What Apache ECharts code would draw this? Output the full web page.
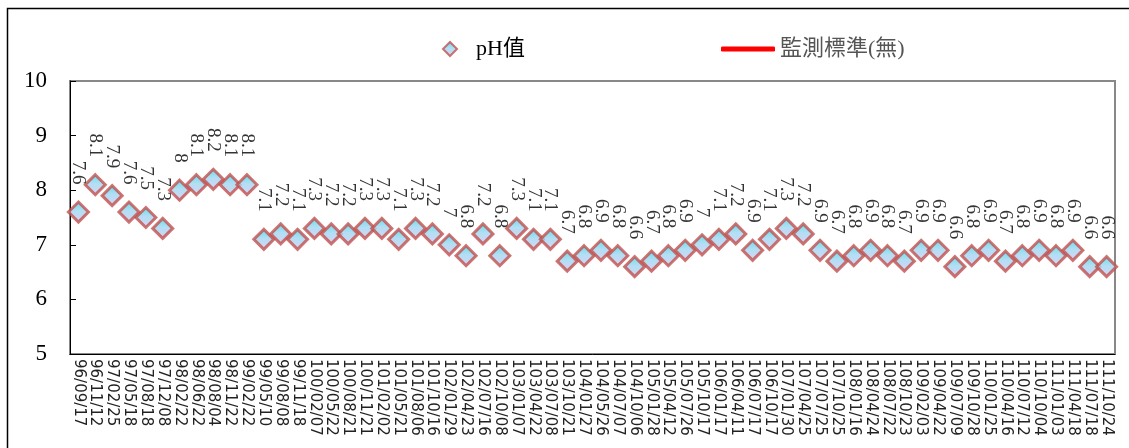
<!DOCTYPE html>
<html>
<head>
<meta charset="utf-8">
<script src="https://cdn.jsdelivr.net/npm/echarts@6/dist/echarts.min.js"></script>
<style>html,body{margin:0;padding:0;background:#fff}#c{width:1129px;height:448px}</style>
</head>
<body>
<div id="c"></div>
<script>
const categories = ['96/09/17','96/11/12','97/02/25','97/05/18','97/08/18','97/12/08','98/02/22','98/06/22','98/08/04','98/11/22','99/02/22','99/05/10','99/08/08','99/11/18','100/02/07','100/05/22','100/08/21','100/11/21','101/02/02','101/05/21','101/08/06','101/10/16','102/01/29','102/04/23','102/07/16','102/10/08','103/01/07','103/04/22','103/07/08','103/10/21','104/01/27','104/05/26','104/07/07','104/10/06','105/01/28','105/04/12','105/07/26','105/10/17','106/01/17','106/04/11','106/07/17','106/10/17','107/01/30','107/04/25','107/07/25','107/10/25','108/01/16','108/04/24','108/07/22','108/10/23','109/02/03','109/04/22','109/07/09','109/10/28','110/01/25','110/04/16','110/07/12','110/10/04','111/01/03','111/04/18','111/07/18','111/10/24'];
const phValues = [7.6,8.1,7.9,7.6,7.5,7.3,8,8.1,8.2,8.1,8.1,7.1,7.2,7.1,7.3,7.2,7.2,7.3,7.3,7.1,7.3,7.2,7,6.8,7.2,6.8,7.3,7.1,7.1,6.7,6.8,6.9,6.8,6.6,6.7,6.8,6.9,7,7.1,7.2,6.9,7.1,7.3,7.2,6.9,6.7,6.8,6.9,6.8,6.7,6.9,6.9,6.6,6.8,6.9,6.7,6.8,6.9,6.8,6.9,6.6,6.6];
const standardValues = [];
const yTicks = {min: 5, max: 10, interval: 1};
const seriesNames = ['pH值', '監測標準(無)'];

const markerFill = new echarts.graphic.LinearGradient(0, 0, 0, 1, [
  {offset: 0, color: '#2fd6ea'}, {offset: 0.45, color: '#9fd6f0'}, {offset: 1, color: '#d0c8f4'}
]);

const chart = echarts.init(document.getElementById('c'));
chart.setOption({
  animation: false,
  backgroundColor: '#fff',
  graphic: [{
    type: 'rect', silent: true, z: 100,
    shape: {x: 7.5, y: 8.5, width: 1200, height: 500},
    style: {fill: 'none', stroke: '#000', lineWidth: 1.5}
  }],
  grid: {left: 70, right: 14, top: 81, bottom: 94, show: true, borderColor: '#888', borderWidth: 2, backgroundColor: 'transparent'},
  legend: [{
    data: [{name: seriesNames[0], icon: 'diamond'}], left: 437, top: 33, itemWidth: 14, itemHeight: 14,
    textStyle: {fontFamily: 'Liberation Serif, "Noto Sans CJK TC"', fontSize: 22, color: '#000', padding: [0, 0, 0, 14]}
  }, {
    data: [{name: seriesNames[1], icon: 'roundRect'}], left: 716, top: 33, itemWidth: 54, itemHeight: 5,
    textStyle: {fontFamily: 'Liberation Serif, "Noto Sans CJK TC"', fontSize: 22, color: '#555'}
  }],
  xAxis: {
    type: 'category', data: categories, boundaryGap: true,
    axisLine: {lineStyle: {color: '#000', width: 1}},
    axisTick: {inside: true, length: 5, lineStyle: {color: '#000'}},
    axisLabel: {interval: 0, rotate: -90, fontFamily: 'DejaVu Sans', fontSize: 15, color: '#222', margin: 5}
  },
  yAxis: {
    type: 'value', min: yTicks.min, max: yTicks.max, interval: yTicks.interval,
    splitLine: {show: false},
    axisLine: {show: true, lineStyle: {color: '#000', width: 1}},
    axisTick: {show: true, inside: true, length: 6, lineStyle: {color: '#000'}},
    axisLabel: {fontFamily: 'Liberation Serif', fontSize: 23, color: '#000', margin: 23}
  },
  series: [{
    name: seriesNames[0], type: 'scatter', data: phValues,
    symbol: 'diamond', symbolSize: [20, 20],
    itemStyle: {color: markerFill, borderColor: '#c0504d', borderWidth: 3},
    label: {
      show: true, position: 'top', distance: 13, rotate: -90, align: 'right', verticalAlign: 'middle',
      fontFamily: 'Liberation Serif', fontSize: 19, color: '#000', offset: [-3, 0],
      formatter: p => String(p.value)
    }
  }, {
    name: seriesNames[1], type: 'line', data: standardValues,
    itemStyle: {color: '#ff0000'}, lineStyle: {color: '#ff0000', width: 4}, showSymbol: false
  }]
});
</script>
</body>
</html>
